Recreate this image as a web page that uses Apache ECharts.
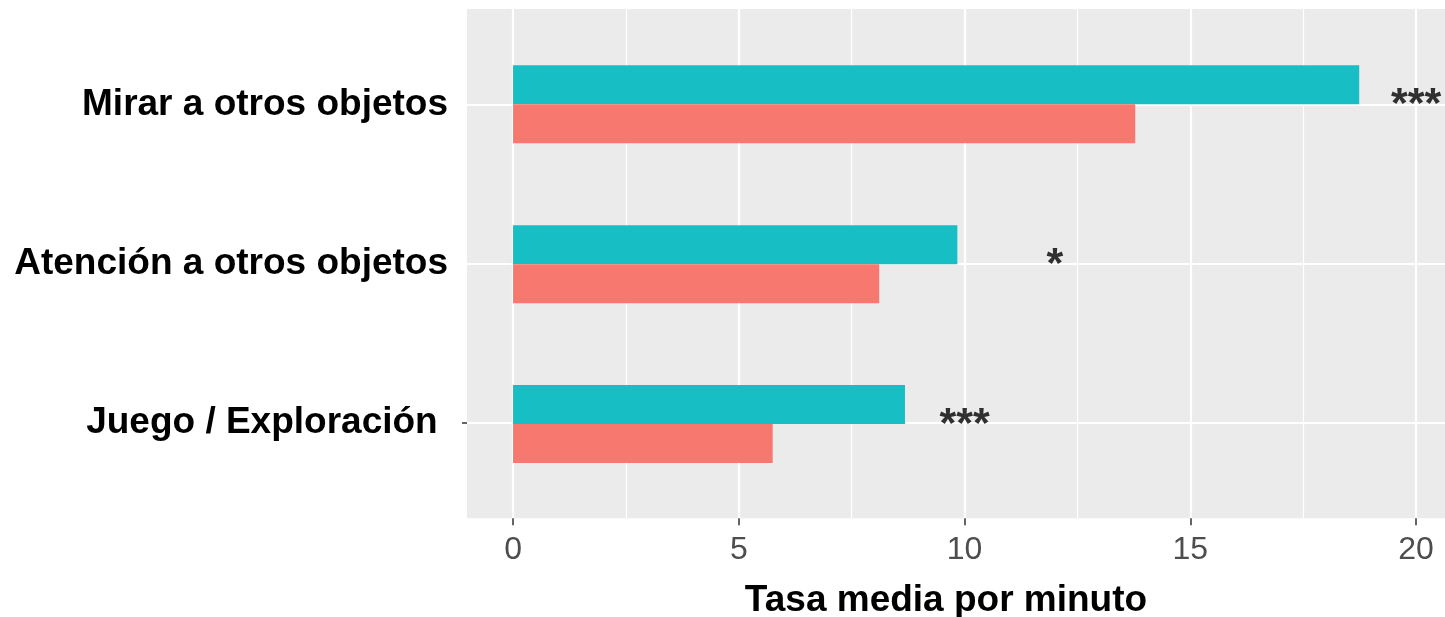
<!DOCTYPE html>
<html><head><meta charset="utf-8">
<script src="https://cdn.jsdelivr.net/npm/echarts@6/dist/echarts.min.js"></script>
<style>html,body{margin:0;padding:0;background:#fff}#c{width:1445px;height:617px}</style>
</head><body><div id="c"></div>
<script>
// ---- data ----
const categories = ['Mirar a otros objetos', 'Atención a otros objetos', 'Juego / Exploración '];
const tealValues = [18.74, 9.84, 8.68];
const salmonValues = [13.78, 8.11, 5.75];
const starX = [20, 12, 10];
const starText = ['***', '*', '***'];
const xTicks = [0, 5, 10, 15, 20];
const xMinorTicks = [2.5, 7.5, 12.5, 17.5];
const xTitle = 'Tasa media por minuto';

// ---- layout ----
const XMIN = -1.02, XMAX = 20.64;
const FONT = '"Liberation Sans", Arial, Helvetica, sans-serif';
const chart = echarts.init(document.getElementById('c'), null, {renderer: 'canvas'});

const option = {
  animation: false,
  backgroundColor: '#ffffff',
  grid: [
    {left: 467, top: 9, width: 978, height: 509.3, show: true, backgroundColor: '#EBEBEB', borderWidth: 0,
     containLabel: false, outerBoundsMode: 'none'},
    {left: 467, top: 24.4, width: 978, height: 479.6, show: false, containLabel: false, outerBoundsMode: 'none'}
  ],
  xAxis: [
    {
      gridIndex: 0, type: 'value', min: XMIN, max: XMAX, position: 'bottom',
      axisLine: {show: false, onZero: false},
      axisTick: {show: true, customValues: xTicks, length: 7, lineStyle: {color: '#333333', width: 1.5}},
      axisLabel: {customValues: xTicks, color: '#4D4D4D', fontSize: 32, fontFamily: FONT, margin: 16},
      splitLine: {show: true, lineStyle: {color: '#FFFFFF', width: 2.2}},
      name: xTitle, nameLocation: 'middle', nameGap: 64,
      nameTextStyle: {color: '#000', fontSize: 37, fontWeight: 'bold', fontFamily: FONT, padding: [0, 20, 0, 0]}
    },
    {
      gridIndex: 0, type: 'value', min: XMIN, max: XMAX, position: 'bottom',
      axisLine: {show: false, onZero: false},
      axisTick: {show: false, customValues: xMinorTicks},
      axisLabel: {show: false, customValues: xMinorTicks},
      splitLine: {show: true, lineStyle: {color: '#FFFFFF', width: 1.2}}
    },
    {
      gridIndex: 1, type: 'value', min: XMIN, max: XMAX, show: false,
      axisLine: {onZero: false}, splitLine: {show: false}
    }
  ],
  yAxis: [
    {
      gridIndex: 0, type: 'value', min: -0.6, max: 2.6, inverse: true, position: 'left',
      axisLine: {show: false, onZero: false},
      axisTick: {show: false, customValues: [0, 1, 2]},
      axisLabel: {
        customValues: [0, 1, 2], formatter: v => categories[Math.round(v)],
        color: '#000', fontSize: 37, fontWeight: 'bold', fontFamily: FONT, margin: 19,
        padding: [0, 0, 8, 0]
      },
      splitLine: {show: true, lineStyle: {color: '#FFFFFF', width: 2}}
    },
    {
      gridIndex: 0, type: 'value', min: -0.6, max: 2.6, inverse: true, position: 'left',
      axisLine: {show: false, onZero: false},
      axisTick: {show: true, customValues: [2], length: 5, lineStyle: {color: '#333333', width: 1.5}},
      axisLabel: {show: false, customValues: [2]},
      splitLine: {show: false}
    },
    {
      gridIndex: 1, type: 'category', data: categories, inverse: true, show: false,
      axisLine: {onZero: false}
    }
  ],
  series: [
    {
      type: 'bar', xAxisIndex: 2, yAxisIndex: 2, data: tealValues,
      barWidth: 39, barGap: '0%', itemStyle: {color: '#17BEC4'}, z: 3
    },
    {
      type: 'bar', xAxisIndex: 2, yAxisIndex: 2, data: salmonValues,
      barWidth: 39, barGap: '0%', itemStyle: {color: '#F7786E'}, z: 3
    },
    {
      type: 'scatter', xAxisIndex: 2, yAxisIndex: 2, symbolSize: 0,
      data: starX.map((x, i) => [x, i]), z: 4,
      label: {
        show: true, position: 'inside', formatter: p => starText[p.dataIndex],
        color: '#000', fontSize: 43, fontWeight: 'bold', fontFamily: FONT, offset: [0, 1]
      }
    }
  ]
};
chart.setOption(option);
</script>
</body></html>
